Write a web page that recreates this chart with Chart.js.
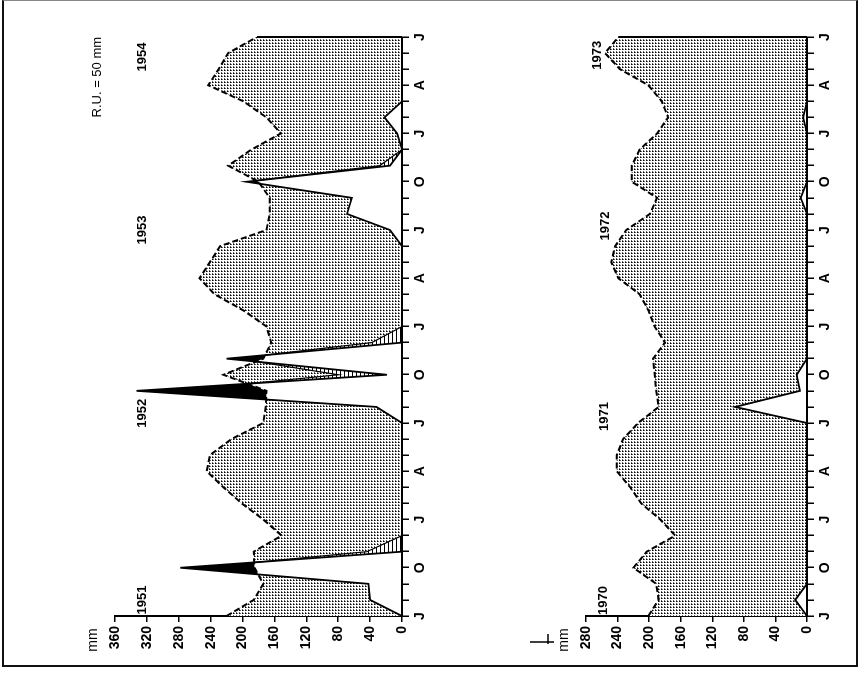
<!DOCTYPE html>
<html>
<head>
<meta charset="utf-8">
<script src="https://cdn.jsdelivr.net/npm/chart.js@4.4.0/dist/chart.umd.min.js"></script>
<style>
  html, body { margin: 0; padding: 0; background: #fff; }
  body { width: 860px; height: 678px; position: relative; overflow: hidden; }
  .frame { position: absolute; left: 2px; top: 0; width: 852px; height: 664px; border: 2px solid #111; border-top: 1px solid #888; }
  .panel { position: absolute; top: 668px; transform-origin: 0 0; transform: rotate(-90deg); }
  #panelTop { left: 80px; }
  #panelBottom { left: 520px; }
</style>
</head>
<body>
<div class="frame"></div>
<div class="panel" id="panelTop"><canvas id="chartTop" width="660" height="347"></canvas></div>
<div class="panel" id="panelBottom"><canvas id="chartBottom" width="660" height="312"></canvas></div>
<script>
// months from July to July, 3 years per panel
let monthLabels = ["J","A","S","O","N","D","J","F","M","A","M","J",
                   "J","A","S","O","N","D","J","F","M","A","M","J",
                   "J","A","S","O","N","D","J","F","M","A","M","J","J"];

// 1951-1954 (mm)
let etp5154  = [220,186,174,185,186,151,174,201,224,245,241,214,174,171,170,224,174,164,
                170,199,235,254,241,228,170,166,166,180,218,189,152,170,199,243,230,218,182];
let rain5154 = [0,40,42,278,0,0,0,0,0,0,0,0,0,32,333,19,220,0,
                0,0,0,0,0,0,15,69,63,195,15,0,6,22,0,0,0,0,0];
// ETR where the soil reserve is used (null = break)
let etrMonths5154 = [3.33,4,5,null,14.44,15,15.82,null,16.22,17,18,null,27.07,28,29];
let etr5154       = [185,44,0,null,194,80,183,null,172,38,0,null,183,28,0];
let years5154   = ["1951","1952","1953","1954"];
let yearPos5154 = [1.0,12.6,24.0,34.75];
let yearMm5154  = [326,326,326,326];

// 1970-1973 (mm)
let etp7073  = [201,188,191,220,203,167,186,210,224,241,241,233,214,188,191,193,195,180,
                193,201,212,239,248,243,229,199,190,222,222,212,190,176,184,201,237,256,239];
let rain7073 = [0,15,0,0,0,0,0,0,0,0,0,0,0,91,9,13,0,0,
                0,0,0,0,0,0,0,0,8,0,0,0,0,5,0,0,0,0,0];
let years7073   = ["1970","1971","1972","1973"];
let yearPos7073 = [0.96,12.4,24.25,34.87];
let yearMm7073  = [258,257,256,266];

const FONT = "'Liberation Sans', Arial, sans-serif";

function makeDots() {
    let c = document.createElement("canvas");
    c.width = 3; c.height = 3;
    let g = c.getContext("2d");
    g.fillStyle = "#fff"; g.fillRect(0, 0, 3, 3);
    g.fillStyle = "#000"; g.fillRect(0, 0, 1, 1);
    g.fillStyle = "#666"; g.fillRect(1, 0, 1, 1); g.fillRect(0, 1, 1, 1);
    return g.createPattern(c, "repeat");
}

function makeHatch() {
    let c = document.createElement("canvas");
    c.width = 4; c.height = 4;
    let g = c.getContext("2d");
    g.fillStyle = "#fff"; g.fillRect(0, 0, 4, 4);
    g.fillStyle = "#000"; g.fillRect(0, 0, 4, 1);
    return g.createPattern(c, "repeat");
}

const dots = makeDots();
const hatch = makeHatch();

function pts(values) {
    return values.map((v, i) => ({ x: i, y: v }));
}

// extra texts drawn with the chart's own scales
const annotate = {
    id: "annotate",
    afterDatasetsDraw(chart, args, opts) {
        const ctx = chart.ctx;
        const x = chart.scales.x, y = chart.scales.y;
        const area = chart.chartArea;
        ctx.save();
        // closing edge at the last month
        ctx.strokeStyle = "#000";
        ctx.lineWidth = 2;
        ctx.beginPath();
        ctx.moveTo(x.getPixelForValue(36), y.getPixelForValue(0));
        ctx.lineTo(x.getPixelForValue(36), y.getPixelForValue(opts.lastEtp));
        ctx.stroke();

        ctx.fillStyle = "#000";
        ctx.textAlign = "center";
        ctx.textBaseline = "middle";
        ctx.font = "bold 13px " + FONT;
        opts.years.forEach((t, i) => {
            ctx.fillText(t, x.getPixelForValue(opts.yearPos[i]), y.getPixelForValue(opts.yearMm[i]));
        });
        ctx.font = "14px " + FONT;
        ctx.fillText("mm", area.left - 24, area.top - 22);
        if (opts.arrow) {
            ctx.lineWidth = 1.5;
            ctx.beginPath();
            ctx.moveTo(area.left - 26, area.top - 56);
            ctx.lineTo(area.left - 26, area.top - 32);
            ctx.moveTo(area.left - 28, area.top - 38);
            ctx.lineTo(area.left - 18, area.top - 38);
            ctx.stroke();
        }
        if (opts.note) {
            ctx.font = "13px " + FONT;
            ctx.fillText(opts.note, x.getPixelForValue(33.5), y.getPixelForValue(382));
        }
        ctx.restore();
    }
};

function makeChart(id, datasets, yMax, topPad, extra) {
    return new Chart(document.getElementById(id), {
        type: "line",
        data: { datasets: datasets },
        options: {
            responsive: false,
            animation: false,
            events: [],
            layout: { autoPadding: false, padding: { top: topPad, right: 29, bottom: 0, left: 0 } },
            plugins: {
                legend: { display: false },
                tooltip: { enabled: false },
                filler: { drawTime: "beforeDatasetsDraw" },
                annotate: extra
            },
            elements: { point: { radius: 0 }, line: { tension: 0 } },
            scales: {
                x: {
                    type: "linear", min: 0, max: 36,
                    afterFit: s => { s.height = 25; },
                    border: { display: true, color: "#000", width: 2 },
                    grid: { drawOnChartArea: false, drawTicks: true, tickLength: 7, color: "#000", lineWidth: 1.5 },
                    ticks: {
                        stepSize: 1, autoSkip: false, maxRotation: 0, minRotation: 0, padding: 3,
                        color: "#000", font: { family: FONT, size: 14, weight: "bold" },
                        callback: v => (Math.round(v) % 3 === 0 ? monthLabels[Math.round(v)] : "")
                    }
                },
                y: {
                    min: 0, max: yMax,
                    afterFit: s => { s.width = 52; },
                    border: { display: true, color: "#000", width: 2 },
                    grid: { drawOnChartArea: false, drawTicks: true, tickLength: 6, color: "#000", lineWidth: 1.5 },
                    ticks: {
                        stepSize: 40, padding: 4,
                        color: "#000", font: { family: FONT, size: 14, weight: "bold" }
                    }
                }
            }
        },
        plugins: [annotate]
    });
}

let etrPoints = etrMonths5154.map((m, i) => ({ x: m === null ? etrMonths5154[i - 1] : m, y: etr5154[i] }));

makeChart("chartTop", [
    {
        label: "ETR", data: etrPoints, borderColor: "#000", borderWidth: 1.2, spanGaps: false,
        fill: { target: 2, above: hatch, below: "rgba(0,0,0,0)" }
    },
    {
        label: "ETP", data: pts(etp5154), borderColor: "#000", borderWidth: 2, borderDash: [6, 3],
        fill: { target: 2, above: dots, below: "#000" }
    },
    {
        label: "P", data: pts(rain5154), borderColor: "#000", borderWidth: 1.8, fill: false
    }
], 360, 35, {
    years: years5154, yearPos: yearPos5154, yearMm: yearMm5154,
    lastEtp: etp5154[36], note: "R.U. = 50 mm", arrow: false
});

makeChart("chartBottom", [
    {
        label: "ETP", data: pts(etp7073), borderColor: "#000", borderWidth: 2, borderDash: [6, 3],
        fill: { target: 1, above: dots, below: "#000" }
    },
    {
        label: "P", data: pts(rain7073), borderColor: "#000", borderWidth: 1.8, fill: false
    }
], 280, 66, {
    years: years7073, yearPos: yearPos7073, yearMm: yearMm7073,
    lastEtp: etp7073[36], note: null, arrow: true
});
</script>
</body>
</html>
